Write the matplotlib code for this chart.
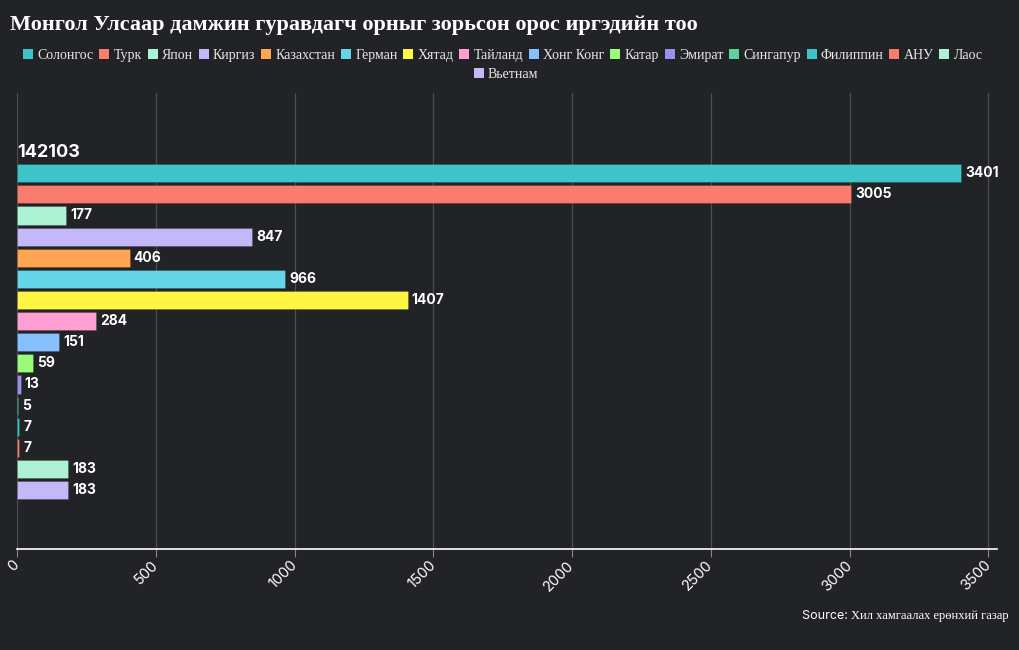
import matplotlib
matplotlib.use('Agg')
import matplotlib.pyplot as plt
from matplotlib.patches import Patch

# data
countries = ['Солонгос', 'Турк', 'Япон', 'Киргиз', 'Казахстан', 'Герман', 'Хятад', 'Тайланд',
             'Хонг Конг', 'Катар', 'Эмират', 'Сингапур', 'Филиппин', 'АНУ', 'Лаос', 'Вьетнам']
counts = [3401, 3005, 177, 847, 406, 966, 1407, 284, 151, 59, 13, 5, 7, 7, 183, 183]
colors = ['#3fc5c9', '#fa7c6e', '#aef2d6', '#c5b8f8', '#fea651', '#64d4e6', '#fff543', '#ff9fd1',
          '#86c0fe', '#99fc79', '#9b8fed', '#5ed29b', '#3fc5c9', '#fa7c6e', '#aef2d6', '#c5b8f8']
xticks = [0, 500, 1000, 1500, 2000, 2500, 3000, 3500]
top_label = '142103'
title = 'Монгол Улсаар дамжин гуравдагч орныг зорьсон орос иргэдийн тоо'
source_txt = 'Хил хамгаалах ерөнхий газар'

bg = '#222327'
serif = 'Liberation Serif'
sans = 'Inter'

fig = plt.figure(figsize=(10.2, 6.5), dpi=100, facecolor=bg)
ax = fig.add_axes([0.0167, 0.155, 0.961, 0.702], facecolor=bg)

ypos = list(range(len(counts)))
ax.barh(ypos, counts, height=0.86, color=colors, edgecolor='#00000030', linewidth=0.6, zorder=3)
for y, v in zip(ypos, counts):
    ax.text(v + 15, y, str(v), color='white', fontsize=10, fontweight='bold',
            family=sans, va='center', ha='left', zorder=4)

ax.set_xlim(0, 3532)
ax.set_ylim(17.8, -3.8)
ax.set_yticks([])
ax.set_xticks(xticks)
ax.set_xticklabels([str(t) for t in xticks], rotation=45, color='white', fontsize=10.5,
                   family=sans, ha='right', va='center', rotation_mode='anchor')
ax.tick_params(axis='x', length=6, color='#888888', pad=4)
ax.grid(axis='x', color='#4d4e52', linewidth=0.9, zorder=0)
for s in ['top', 'right', 'left']:
    ax.spines[s].set_visible(False)
ax.spines['bottom'].set_color('white')
ax.spines['bottom'].set_linewidth(1.2)

ax.text(0, -1.0, top_label, color='white', fontsize=13, fontweight='bold', family=sans,
        ha='left', va='center')

fig.text(0.0098, 0.962, title, color='white', fontsize=16, fontweight='bold', family=serif,
         ha='left', va='center')

handles = [Patch(facecolor=c, edgecolor='none', label=n) for n, c in zip(countries, colors)]
lkw = dict(frameon=False, handlelength=0.72, handleheight=0.72,
           handletextpad=0.3, columnspacing=0.42, labelcolor='#e8e8e8',
           prop={'family': serif, 'size': 10})
leg1 = fig.legend(handles=handles[:15], ncol=15, loc='center', bbox_to_anchor=(0.493, 0.915), **lkw)
leg2 = fig.legend(handles=handles[15:], ncol=1, loc='center', bbox_to_anchor=(0.496, 0.886), **lkw)

src = fig.text(0.989, 0.052, source_txt, color='white', fontsize=9, family=serif,
               ha='right', va='center')
ax.annotate('Source: ', xy=(0, 0), xycoords=src, color='white', fontsize=9,
            family=sans, ha='right', va='bottom', annotation_clip=False)

fig.savefig('out.png', dpi=100, facecolor=bg)
